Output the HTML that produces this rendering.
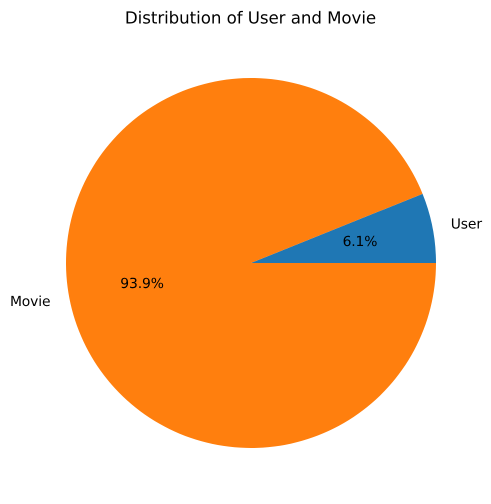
<!DOCTYPE html>
<html lang="en">
<head>
<meta charset="utf-8">
<title>Distribution of User and Movie</title>
<style>
html,body{margin:0;padding:0;background:#fff;}
svg{display:block;}
text{font-family:"DejaVu Sans",sans-serif;fill:#000;text-rendering:geometricPrecision;}
</style>
</head>
<body>
<svg id="chart" xmlns="http://www.w3.org/2000/svg" width="491" height="504" viewBox="0 0 491 504">
<rect width="491" height="504" fill="#fff"/>
<text x="250.5" y="23.6" text-anchor="middle" font-size="16.67" letter-spacing="-0.06">Distribution of User and Movie</text>
</svg>
<script>
const categories = ['User', 'Movie'];
const seriesValues = [6.1, 93.9];
const printedValues = ['6.1%', '93.9%'];
const sliceColors = ['#1f77b4', '#ff7f0e'];

const svg = document.getElementById('chart');
const NS = 'http://www.w3.org/2000/svg';
const cx = 251, cy = 263, radius = 185;
const total = seriesValues.reduce((a, b) => a + b, 0);

function angleOf(value) {
  return value / total * 2 * Math.PI;
}
function pointAt(angle, r) {
  return [cx + r * Math.cos(angle), cy - r * Math.sin(angle)];
}
function slugOf(name) {
  return name.toLowerCase();
}

let start = 0;
categories.forEach((name, i) => {
  const sweep = angleOf(seriesValues[i]);
  const end = start + sweep;
  const [x0, y0] = pointAt(start, radius);
  const [x1, y1] = pointAt(end, radius);
  const large = sweep > Math.PI ? 1 : 0;

  const slice = document.createElementNS(NS, 'path');
  slice.setAttribute('d', `M${cx} ${cy}L${x0} ${y0}A${radius} ${radius} 0 ${large} 0 ${x1} ${y1}Z`);
  slice.setAttribute('fill', sliceColors[i]);
  
  
  svg.appendChild(slice);

  start = end;
});

start = 0;
categories.forEach((name, i) => {
  const sweep = angleOf(seriesValues[i]);
  const mid = start + sweep / 2;
  const [lx, ly] = pointAt(mid, radius * 1.1);
  const [px, py] = pointAt(mid, radius * 0.6);
  const isRight = Math.cos(mid) >= 0;

  const label = document.createElementNS(NS, 'text');
  label.setAttribute('x', isRight ? lx : lx - 0.8);
  label.setAttribute('y', ly + 4.4);
  label.setAttribute('font-size', '13.89');
  label.setAttribute('letter-spacing', '-0.12');
  label.setAttribute('text-anchor', isRight ? 'start' : 'end');
  label.textContent = name;
  
  
  svg.appendChild(label);

  const pct = document.createElementNS(NS, 'text');
  pct.setAttribute('x', px);
  pct.setAttribute('y', py + 4);
  pct.setAttribute('font-size', '13.89');
  pct.setAttribute('letter-spacing', '-0.12');
  pct.setAttribute('text-anchor', 'middle');
  pct.textContent = printedValues[i];
  
  
  svg.appendChild(pct);

  start += sweep;
});
</script>
</body>
</html>
